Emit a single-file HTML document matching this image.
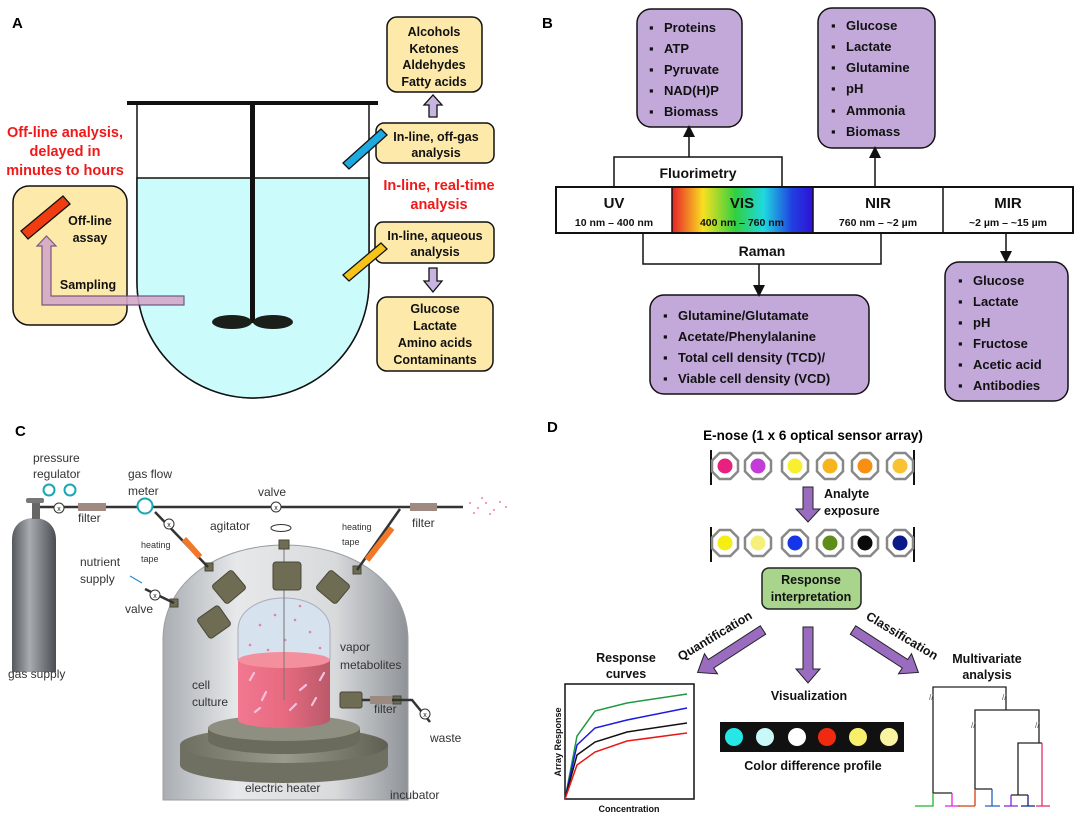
<!DOCTYPE html>
<html><head><meta charset="utf-8"><style>
html,body{margin:0;padding:0;background:#fff}
svg{display:block}
text{font-family:"Liberation Sans",Arial,sans-serif}
.b{font-weight:bold}
</style></head><body>
<svg width="1084" height="816" viewBox="0 0 1084 816" xmlns="http://www.w3.org/2000/svg">
<defs>
<linearGradient id="spec" x1="0" x2="1" y1="0" y2="0">
<stop offset="0" stop-color="#e8202a"/><stop offset="0.22" stop-color="#f8e020"/><stop offset="0.45" stop-color="#30d040"/><stop offset="0.65" stop-color="#20d8e0"/><stop offset="0.85" stop-color="#2040e0"/><stop offset="1" stop-color="#3010d8"/></linearGradient>
<linearGradient id="dome" x1="0" x2="1"><stop offset="0" stop-color="#a9adb2"/><stop offset="0.3" stop-color="#e6e8ea"/><stop offset="0.7" stop-color="#d8dadc"/><stop offset="1" stop-color="#8f9398"/></linearGradient>
<linearGradient id="cyl" x1="0" x2="1"><stop offset="0" stop-color="#55585c"/><stop offset="0.4" stop-color="#a8abb0"/><stop offset="1" stop-color="#4a4d52"/></linearGradient>
<linearGradient id="pink" x1="0" x2="1"><stop offset="0" stop-color="#f07890"/><stop offset="0.5" stop-color="#e86a80"/><stop offset="1" stop-color="#b85a6a"/></linearGradient>
<linearGradient id="disc" x1="0" x2="1"><stop offset="0" stop-color="#6d6e60"/><stop offset="0.5" stop-color="#9a9b8c"/><stop offset="1" stop-color="#5e5f52"/></linearGradient>
<marker id="ah" markerWidth="8" markerHeight="8" refX="4" refY="4" orient="auto"><path d="M0,0 L8,4 L0,8 z" fill="#111"/></marker>
</defs>

<!-- ===== PANEL A ===== -->
<text x="12" y="28" class="b" font-size="15">A</text>
<path d="M137,103 L137,282 A116,116 0 0 0 369,282 L369,103" fill="#fff" stroke="#111" stroke-width="1.5"/>
<path d="M137,178 L369,178 L369,282 A116,116 0 0 1 137,282 Z" fill="#ccfbfc" stroke="#111" stroke-width="1.5"/>
<rect x="127" y="101" width="251" height="4" fill="#111"/>
<rect x="250" y="103" width="5" height="220" fill="#111"/>
<ellipse cx="232" cy="322" rx="20" ry="7" fill="#1a1f1a"/>
<ellipse cx="273" cy="322" rx="20" ry="7" fill="#1a1f1a"/>
<g fill="#fde9a9" stroke="#111" stroke-width="1.5">
<rect x="387" y="17" width="95" height="75" rx="10"/>
<rect x="376" y="123" width="118" height="40" rx="8"/>
<rect x="375" y="222" width="119" height="41" rx="8"/>
<rect x="377" y="297" width="116" height="74" rx="10"/>
<rect x="13" y="186" width="114" height="139" rx="16"/>
</g>
<g class="b" font-size="12.5" text-anchor="middle" fill="#111">
<text x="434" y="36">Alcohols</text><text x="434" y="53">Ketones</text><text x="434" y="69">Aldehydes</text><text x="434" y="86">Fatty acids</text>
<text x="436" y="141">In-line, off-gas</text><text x="436" y="157">analysis</text>
<text x="435" y="240">In-line, aqueous</text><text x="435" y="256">analysis</text>
<text x="435" y="313">Glucose</text><text x="435" y="330">Lactate</text><text x="435" y="347">Amino acids</text><text x="435" y="364">Contaminants</text>
<text x="90" y="225">Off-line</text><text x="90" y="242">assay</text>
<text x="88" y="289">Sampling</text>
</g>
<g class="b" font-size="14.5" text-anchor="middle" fill="#f01818">
<text x="439" y="190">In-line, real-time</text><text x="439" y="209">analysis</text>
<text x="65" y="137">Off-line analysis,</text><text x="65" y="156">delayed in</text><text x="65" y="175">minutes to hours</text>
</g>
<!-- arrows A -->
<path d="M429,117 L429,105 L424,105 L433,95 L442,105 L437,105 L437,117 Z" fill="#c8b4e0" stroke="#111" stroke-width="1.3"/>
<path d="M429,268 L437,268 L437,281 L442,281 L433,292 L424,281 L429,281 Z" fill="#c8b4e0" stroke="#111" stroke-width="1.3"/>
<path d="M184,296 L184,305 L51,305 L51,245 L42,245 L42,305" fill="none"/>
<path d="M42,305 L42,246 L37,246 L46.5,236 L56,246 L51,246 L51,296 L184,296 L184,305 Z" fill="#d4a8c8" stroke="#6a4a7a" stroke-width="1.2" opacity="0.9"/>
<!-- probes -->
<g stroke="#111" stroke-width="1.3">
<path d="M343,163 L381,129 L387,135 L349,169 Z" fill="#1eaadf"/>
<path d="M343,275 L381,243 L387,249 L349,281 Z" fill="#f6c418"/>
<path d="M21,231 L63,196 L70,204 L28,239 Z" fill="#f03c10"/>
</g>

<!-- ===== PANEL B ===== -->
<text x="542" y="28" class="b" font-size="15">B</text>
<g fill="#c3a9da" stroke="#111" stroke-width="1.5">
<rect x="637" y="9" width="105" height="118" rx="14"/>
<rect x="818" y="8" width="117" height="140" rx="14"/>
<rect x="650" y="295" width="219" height="99" rx="14"/>
<rect x="945" y="262" width="123" height="139" rx="14"/>
</g>
<g fill="#fff" stroke="#111" stroke-width="1.5">
<rect x="614" y="157" width="168" height="30"/>
<rect x="643" y="233" width="238" height="31"/>
<rect x="556" y="187" width="517" height="46" stroke-width="2"/>
</g>
<rect x="672" y="188" width="141" height="44" fill="url(#spec)"/>
<g stroke="#111" stroke-width="1.5"><line x1="672" y1="187" x2="672" y2="233"/><line x1="813" y1="187" x2="813" y2="233"/><line x1="943" y1="187" x2="943" y2="233"/></g>
<g class="b" text-anchor="middle" fill="#111">
<text x="698" y="178" font-size="14">Fluorimetry</text>
<text x="762" y="256" font-size="14">Raman</text>
<text x="614" y="208" font-size="15">UV</text><text x="614" y="226" font-size="10.5">10 nm – 400 nm</text>
<text x="742" y="208" font-size="15">VIS</text><text x="742" y="226" font-size="10.5">400 nm – 760 nm</text>
<text x="878" y="208" font-size="15">NIR</text><text x="878" y="226" font-size="10.5">760 nm – ~2 µm</text>
<text x="1008" y="208" font-size="15">MIR</text><text x="1008" y="226" font-size="10.5">~2 µm – ~15 µm</text>
</g>
<g stroke="#111" stroke-width="1.5" marker-end="url(#ah)">
<line x1="689" y1="157" x2="689" y2="131"/>
<line x1="875" y1="187" x2="875" y2="152"/>
<line x1="759" y1="264" x2="759" y2="291"/>
<line x1="1006" y1="233" x2="1006" y2="257"/>
</g>
<g class="b" font-size="13" fill="#111">
<g><text x="649" y="32">▪</text><text x="664" y="32">Proteins</text><text x="649" y="53">▪</text><text x="664" y="53">ATP</text><text x="649" y="74">▪</text><text x="664" y="74">Pyruvate</text><text x="649" y="95">▪</text><text x="664" y="95">NAD(H)P</text><text x="649" y="116">▪</text><text x="664" y="116">Biomass</text></g>
<g><text x="831" y="30">▪</text><text x="846" y="30">Glucose</text><text x="831" y="51">▪</text><text x="846" y="51">Lactate</text><text x="831" y="72">▪</text><text x="846" y="72">Glutamine</text><text x="831" y="93">▪</text><text x="846" y="93">pH</text><text x="831" y="115">▪</text><text x="846" y="115">Ammonia</text><text x="831" y="136">▪</text><text x="846" y="136">Biomass</text></g>
<g><text x="663" y="320">▪</text><text x="678" y="320">Glutamine/Glutamate</text><text x="663" y="341">▪</text><text x="678" y="341">Acetate/Phenylalanine</text><text x="663" y="362">▪</text><text x="678" y="362">Total cell density (TCD)/</text><text x="663" y="383">▪</text><text x="678" y="383">Viable cell density (VCD)</text></g>
<g><text x="958" y="285">▪</text><text x="973" y="285">Glucose</text><text x="958" y="306">▪</text><text x="973" y="306">Lactate</text><text x="958" y="327">▪</text><text x="973" y="327">pH</text><text x="958" y="348">▪</text><text x="973" y="348">Fructose</text><text x="958" y="369">▪</text><text x="973" y="369">Acetic acid</text><text x="958" y="390">▪</text><text x="973" y="390">Antibodies</text></g>
</g>

<!-- ===== PANEL C ===== -->
<text x="15" y="436" class="b" font-size="15">C</text>
<!-- dome -->
<path d="M163,800 L163,640 C163,580 220,545 285,545 C350,545 408,580 408,640 L408,800 Z" fill="url(#dome)" stroke="#9a9ea2"/>
<!-- flask -->
<path d="M238,660 L238,630 C238,610 260,598 284,598 C308,598 330,610 330,630 L330,660 Z" fill="#d6e2ee" stroke="#aab"/>
<g fill="#e86a90" opacity="0.8"><circle cx="260" cy="625" r="1.3"/><circle cx="275" cy="615" r="1.3"/><circle cx="295" cy="620" r="1.3"/><circle cx="310" cy="632" r="1.3"/><circle cx="250" cy="645" r="1.3"/><circle cx="285" cy="640" r="1.3"/><circle cx="320" cy="648" r="1.3"/><circle cx="268" cy="650" r="1.3"/><circle cx="300" cy="606" r="1.3"/></g>
<!-- lower discs -->
<path d="M180,745 L180,765 A104,18 0 0 0 388,765 L388,745 Z" fill="#6f7062"/>
<ellipse cx="284" cy="745" rx="104" ry="18" fill="url(#disc)"/>
<path d="M208,728 L208,740 A76,14 0 0 0 360,740 L360,728 Z" fill="#6a6b5d"/>
<ellipse cx="284" cy="728" rx="76" ry="13" fill="#8e8f80"/>
<!-- culture -->
<path d="M238,660 L238,720 A46,8 0 0 0 330,720 L330,660 Z" fill="url(#pink)"/>
<ellipse cx="284" cy="660" rx="46" ry="8" fill="#f4909e"/>
<g stroke="#f8c0e0" stroke-width="2.2" stroke-linecap="round"><line x1="250" y1="680" x2="254" y2="673"/><line x1="262" y1="700" x2="266" y2="692"/><line x1="300" y1="690" x2="306" y2="685"/><line x1="312" y1="705" x2="316" y2="698"/><line x1="320" y1="680" x2="324" y2="673"/><line x1="255" y1="712" x2="260" y2="708"/><line x1="290" y1="710" x2="296" y2="704"/></g>
<line x1="284" y1="540" x2="284" y2="700" stroke="#777"/>
<!-- ports -->
<g fill="#6e6c52" stroke="#4a4838">
<rect x="273" y="562" width="28" height="28" rx="3"/>
<rect x="216" y="575" width="26" height="24" rx="3" transform="rotate(-40 229 587)"/>
<rect x="320" y="575" width="26" height="24" rx="3" transform="rotate(40 333 587)"/>
<rect x="201" y="610" width="26" height="24" rx="3" transform="rotate(-35 214 622)"/>
<rect x="340" y="692" width="22" height="16" rx="2"/>
<rect x="279" y="540" width="10" height="9"/><rect x="205" y="563" width="8" height="8"/><rect x="353" y="566" width="8" height="8"/><rect x="170" y="599" width="8" height="8"/><rect x="393" y="696" width="8" height="8"/>
</g>
<!-- pipes -->
<g stroke="#333" stroke-width="2.5" fill="none">
<line x1="37" y1="507" x2="463" y2="507"/>
<path d="M155,512 L208,567"/><path d="M400,509 L357,570"/>
<path d="M145,589 L174,603"/><path d="M362,700 L397,700 L412,700 L430,722"/>
</g>
<line x1="184" y1="539" x2="200" y2="557" stroke="#f07828" stroke-width="6"/>
<line x1="392" y1="528" x2="367" y2="560" stroke="#f07828" stroke-width="6"/>
<rect x="370" y="696" width="22" height="8" fill="#9a8a80"/>
<rect x="78" y="503" width="28" height="8" fill="#9e8a80"/>
<rect x="410" y="503" width="27" height="8" fill="#9e8a80"/>
<g fill="#f08098"><circle cx="470" cy="503" r="1"/><circle cx="478" cy="508" r="1"/><circle cx="486" cy="503" r="1"/><circle cx="494" cy="510" r="1"/><circle cx="500" cy="502" r="1"/><circle cx="506" cy="507" r="1"/><circle cx="490" cy="514" r="1"/><circle cx="474" cy="513" r="1"/><circle cx="482" cy="498" r="1"/></g>
<!-- cylinder -->
<path d="M12,672 L12,540 C12,525 22,518 34,518 C46,518 56,525 56,540 L56,672 Z" fill="url(#cyl)"/>
<rect x="32" y="502" width="8" height="17" fill="#666"/><rect x="26" y="498" width="18" height="5" rx="2" fill="#777"/>
<!-- gauges & valves -->
<g fill="#fff" stroke-width="2">
<circle cx="49" cy="490" r="5.5" stroke="#18a8b4"/><circle cx="70" cy="490" r="5.5" stroke="#18a8b4"/>
<circle cx="145" cy="506" r="7.5" stroke="#18a8b4"/>
</g>
<g fill="#fff" stroke="#333" stroke-width="1"><circle cx="59" cy="508" r="5"/><circle cx="276" cy="507" r="5"/><circle cx="169" cy="524" r="5"/><circle cx="155" cy="595" r="5"/><circle cx="425" cy="714" r="5"/></g>
<g font-size="7" text-anchor="middle" fill="#222"><text x="59" y="511">x</text><text x="276" y="510">x</text><text x="169" y="527">x</text><text x="155" y="598">x</text><text x="425" y="717">x</text></g>
<ellipse cx="281" cy="528" rx="10" ry="3.5" fill="none" stroke="#333"/>
<line x1="130" y1="576" x2="142" y2="583" stroke="#2a8ad0" stroke-width="1.2"/>
<g font-size="12" fill="#333">
<text x="33" y="462">pressure</text><text x="33" y="478">regulator</text>
<text x="128" y="478">gas flow</text><text x="128" y="495">meter</text>
<text x="258" y="496">valve</text><text x="78" y="522">filter</text><text x="412" y="527">filter</text>
<text x="210" y="530">agitator</text>
<text x="141" y="548" font-size="9">heating</text><text x="141" y="562" font-size="9">tape</text>
<text x="342" y="530" font-size="9">heating</text><text x="342" y="545" font-size="9">tape</text>
<text x="80" y="566">nutrient</text><text x="80" y="583">supply</text><text x="125" y="613">valve</text>
<text x="8" y="678">gas supply</text>
<text x="340" y="651">vapor</text><text x="340" y="669">metabolites</text>
<text x="192" y="689">cell</text><text x="192" y="706">culture</text>
<text x="374" y="713">filter</text><text x="430" y="742">waste</text>
<text x="245" y="792">electric heater</text><text x="390" y="799">incubator</text>
</g>

<!-- ===== PANEL D ===== -->
<text x="547" y="432" class="b" font-size="15">D</text>
<text x="813" y="440" class="b" font-size="13.5" text-anchor="middle">E-nose (1 x 6 optical sensor array)</text>
<g stroke="#111" stroke-width="2"><line x1="711" y1="450" x2="711" y2="485"/><line x1="914" y1="450" x2="914" y2="485"/><line x1="711" y1="527" x2="711" y2="562"/><line x1="914" y1="527" x2="914" y2="562"/></g>
<g stroke="#888" stroke-width="2.5" fill="#fff">
<path id="oct" d="M-5.4,-13 L5.4,-13 L13,-5.4 L13,5.4 L5.4,13 L-5.4,13 L-13,5.4 L-13,-5.4 Z" transform="translate(725,466)"/>
<path d="M-5.4,-13 L5.4,-13 L13,-5.4 L13,5.4 L5.4,13 L-5.4,13 L-13,5.4 L-13,-5.4 Z" transform="translate(758,466)"/>
<path d="M-5.4,-13 L5.4,-13 L13,-5.4 L13,5.4 L5.4,13 L-5.4,13 L-13,5.4 L-13,-5.4 Z" transform="translate(795,466)"/>
<path d="M-5.4,-13 L5.4,-13 L13,-5.4 L13,5.4 L5.4,13 L-5.4,13 L-13,5.4 L-13,-5.4 Z" transform="translate(830,466)"/>
<path d="M-5.4,-13 L5.4,-13 L13,-5.4 L13,5.4 L5.4,13 L-5.4,13 L-13,5.4 L-13,-5.4 Z" transform="translate(865,466)"/>
<path d="M-5.4,-13 L5.4,-13 L13,-5.4 L13,5.4 L5.4,13 L-5.4,13 L-13,5.4 L-13,-5.4 Z" transform="translate(900,466)"/>
<path d="M-5.4,-13 L5.4,-13 L13,-5.4 L13,5.4 L5.4,13 L-5.4,13 L-13,5.4 L-13,-5.4 Z" transform="translate(725,543)"/>
<path d="M-5.4,-13 L5.4,-13 L13,-5.4 L13,5.4 L5.4,13 L-5.4,13 L-13,5.4 L-13,-5.4 Z" transform="translate(758,543)"/>
<path d="M-5.4,-13 L5.4,-13 L13,-5.4 L13,5.4 L5.4,13 L-5.4,13 L-13,5.4 L-13,-5.4 Z" transform="translate(795,543)"/>
<path d="M-5.4,-13 L5.4,-13 L13,-5.4 L13,5.4 L5.4,13 L-5.4,13 L-13,5.4 L-13,-5.4 Z" transform="translate(830,543)"/>
<path d="M-5.4,-13 L5.4,-13 L13,-5.4 L13,5.4 L5.4,13 L-5.4,13 L-13,5.4 L-13,-5.4 Z" transform="translate(865,543)"/>
<path d="M-5.4,-13 L5.4,-13 L13,-5.4 L13,5.4 L5.4,13 L-5.4,13 L-13,5.4 L-13,-5.4 Z" transform="translate(900,543)"/>
</g>
<g>
<circle cx="725" cy="466" r="7.5" fill="#e8207e"/><circle cx="758" cy="466" r="7.5" fill="#c33cd8"/><circle cx="795" cy="466" r="7.5" fill="#f8ef30"/><circle cx="830" cy="466" r="7.5" fill="#f6b51e"/><circle cx="865" cy="466" r="7.5" fill="#f79012"/><circle cx="900" cy="466" r="7.5" fill="#f8c233"/>
<circle cx="725" cy="543" r="7.5" fill="#f4ee14"/><circle cx="758" cy="543" r="7.5" fill="#f6f07a"/><circle cx="795" cy="543" r="7.5" fill="#1536e8"/><circle cx="830" cy="543" r="7.5" fill="#5f8d1a"/><circle cx="865" cy="543" r="7.5" fill="#0a0a0a"/><circle cx="900" cy="543" r="7.5" fill="#0b1a8a"/>
</g>
<g fill="#9a6cc0" stroke="#222" stroke-width="1">
<path d="M803,487 L813,487 L813,509 L820,509 L808,522 L796,509 L803,509 Z"/>
<path d="M803,627 L813,627 L813,669 L820,669 L808,683 L796,669 L803,669 Z"/>
<path d="M0,-5 L62,-5 L62,-12 L78,0 L62,12 L62,5 L0,5 Z" transform="translate(763,630) rotate(147)"/>
<path d="M0,-5 L62,-5 L62,-12 L78,0 L62,12 L62,5 L0,5 Z" transform="translate(853,630) rotate(33)"/>
</g>
<g class="b" font-size="12.5" fill="#111">
<text x="824" y="498">Analyte</text><text x="824" y="515">exposure</text>
<text x="811" y="583" text-anchor="middle"></text>
</g>
<rect x="762" y="568" width="99" height="41" rx="7" fill="#a9d48b" stroke="#222" stroke-width="1.5"/>
<g class="b" font-size="12.5" fill="#111" text-anchor="middle">
<text x="811" y="584">Response</text><text x="811" y="601">interpretation</text>
<text x="715" y="640" transform="rotate(-31 715 636)">Quantification</text>
<text x="902" y="640" transform="rotate(31 902 636)">Classification</text>
<text x="626" y="662">Response</text><text x="626" y="678">curves</text>
<text x="809" y="700">Visualization</text>
<text x="813" y="770">Color difference profile</text>
<text x="987" y="663">Multivariate</text><text x="987" y="679">analysis</text>
<text x="629" y="812" font-size="9">Concentration</text>
<text x="561" y="742" font-size="9" transform="rotate(-90 561 742)">Array Response</text>
</g>
<rect x="565" y="684" width="129" height="115" fill="#fff" stroke="#111" stroke-width="1.5"/>
<g fill="none" stroke-width="1.5">
<polyline points="565,799 577,736 595,711 627,703 687,694" stroke="#1f9a40"/>
<polyline points="565,799 577,745 595,728 627,720 687,708" stroke="#1a1ae0"/>
<polyline points="565,799 577,755 595,742 627,732 687,723" stroke="#111"/>
<polyline points="565,799 577,765 595,752 627,741 687,733" stroke="#e81818"/>
</g>
<rect x="720" y="722" width="184" height="30" fill="#111"/>
<circle cx="734" cy="737" r="9" fill="#27e6e6"/><circle cx="765" cy="737" r="9" fill="#c8f8f8"/><circle cx="797" cy="737" r="9" fill="#fff"/><circle cx="827" cy="737" r="9" fill="#f02a10"/><circle cx="858" cy="737" r="9" fill="#f8f06a"/><circle cx="889" cy="737" r="9" fill="#f8f4a0"/>
<!-- dendrogram -->
<g fill="none" stroke="#222" stroke-width="1.3">
<path d="M933,793 L933,687 L1006,687 L1006,710"/>
<path d="M975,789 L975,710 L1039,710 L1039,743"/>
<path d="M1018,795 L1018,743 L1042,743"/>
<path d="M933,793 L952,793 M975,789 L992,789 M1011,795 L1028,795"/>
</g>
<g fill="none" stroke-width="1.3">
<path d="M1042,743 L1042,806" stroke="#e0306a"/>
<path d="M915,806 L933,806 L933,793" stroke="#22b030"/>
<path d="M952,793 L952,806 M945,806 L960,806" stroke="#e020e0"/>
<path d="M975,789 L975,806 M958,806 L975,806" stroke="#d04010"/>
<path d="M992,789 L992,806 M985,806 L1000,806" stroke="#2060c0"/>
<path d="M1011,795 L1011,806 M1004,806 L1018,806" stroke="#8020e0"/>
<path d="M1028,795 L1028,806 M1021,806 L1035,806" stroke="#102080"/>
<path d="M1036,806 L1050,806" stroke="#e0306a"/>
</g>
<g font-size="8" fill="#555"><text x="929" y="700">//</text><text x="1002" y="700">//</text><text x="971" y="728">//</text><text x="1035" y="728">//</text></g>
</svg>
</body></html>
